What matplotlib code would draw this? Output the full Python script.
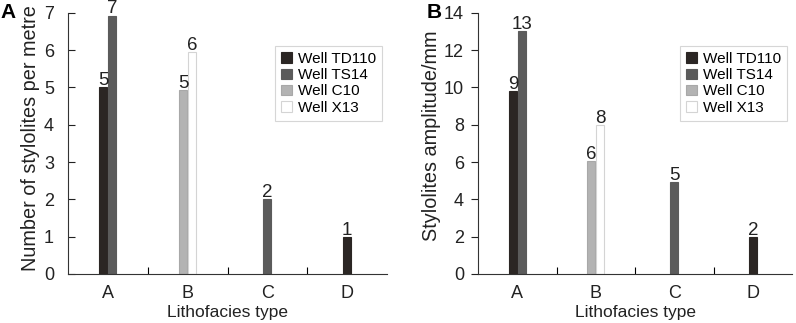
import numpy as np
import matplotlib
matplotlib.use("Agg")
import matplotlib.pyplot as plt
from matplotlib.ticker import FixedLocator

plt.rcParams['font.family'] = ['Liberation Sans', 'DejaVu Sans']

# categories and wells
categories = ['A', 'B', 'C', 'D']
wells = ['Well TD110', 'Well TS14', 'Well C10', 'Well X13']

# panel A: number of stylolites per metre (nan = no bar)
count_td110 = [5.0, np.nan, np.nan, 1.0]
count_ts14 = [6.93, np.nan, 2.0, np.nan]
count_c10 = [np.nan, 4.93, np.nan, np.nan]
count_x13 = [np.nan, 5.94, np.nan, np.nan]
count_labels_td110 = ['5', '', '', '1']
count_labels_ts14 = ['7', '', '2', '']
count_labels_c10 = ['', '5', '', '']
count_labels_x13 = ['', '6', '', '']

# panel B: stylolite amplitude in mm
amp_td110 = [9.83, np.nan, np.nan, 1.97]
amp_ts14 = [13.05, np.nan, 4.95, np.nan]
amp_c10 = [np.nan, 6.05, np.nan, np.nan]
amp_x13 = [np.nan, 8.0, np.nan, np.nan]
amp_labels_td110 = ['9', '', '', '2']
amp_labels_ts14 = ['13', '', '5', '']
amp_labels_c10 = ['', '6', '', '']
amp_labels_x13 = ['', '8', '', '']

face = ['#2b2624', '#5b5b5b', '#b3b3b3', '#ffffff']
edge = ['#2b2624', '#5b5b5b', '#a8a8a8', '#d4d4d4']
bar_w = 0.1
gap = 0.012


def draw_panel(ax, series, labels, ymax, ystep, ylabel, ytick_dir, ylab_y):
    series = np.array(series, dtype=float)
    # only the wells with data in a category are drawn, centred on the category
    for ci in range(len(categories)):
        idx = [k for k in range(len(wells)) if not np.isnan(series[k, ci])]
        n = len(idx)
        total = n * bar_w + (n - 1) * gap
        start = ci - total / 2 + bar_w / 2
        for j, k in enumerate(idx):
            x = start + j * (bar_w + gap)
            ax.bar(x, series[k, ci], width=bar_w, color=face[k], edgecolor=edge[k],
                   linewidth=0.8, zorder=2)
            ax.text(x, series[k, ci] + ymax * 0.008, labels[k][ci], ha='center',
                    va='baseline', fontsize=13.5, color='#222222')
    # legend handles
    for k in range(len(wells)):
        ax.bar(np.nan, np.nan, color=face[k], edgecolor=edge[k], linewidth=0.8,
               label=wells[k])

    ax.set_xlim(-0.5, 3.5)
    ax.set_ylim(0, ymax)
    ax.set_yticks(np.arange(0, ymax + 0.01, ystep))
    ax.set_xticks(range(len(categories)))
    ax.set_xticklabels(categories, fontsize=13)
    ax.xaxis.set_minor_locator(FixedLocator([0.5, 1.5, 2.5]))
    ax.tick_params(axis='x', which='major', length=0, pad=8, colors='#222222')
    ax.tick_params(axis='x', which='minor', direction='in', length=5, width=0.8)
    ax.tick_params(axis='y', direction=ytick_dir, length=5, width=0.8, labelsize=13,
                   pad=10 if ytick_dir == 'in' else 5, colors='#222222')
    for s in ['top', 'right']:
        ax.spines[s].set_visible(False)
    for s in ['left', 'bottom']:
        ax.spines[s].set_linewidth(0.8)
        ax.spines[s].set_color('#333333')
    ax.set_xlabel('Lithofacies type', fontsize=12.5, labelpad=2, color='#222222')
    ax.set_ylabel(ylabel, fontsize=14.3, labelpad=2.5, color='#222222')
    ax.yaxis.label.set_y(ylab_y)
    leg = ax.legend(loc='upper right', bbox_to_anchor=(0.985, 0.874), fontsize=11,
                    frameon=True, fancybox=False, handlelength=0.7, handleheight=0.7,
                    handletextpad=0.4, borderpad=0.4, labelspacing=0.15,
                    borderaxespad=0)
    leg.get_frame().set_edgecolor('#cccccc')
    leg.get_frame().set_linewidth(0.8)
    return ax


fig = plt.figure(figsize=(7.96, 3.23), dpi=100)
axA = fig.add_axes([0.0854, 0.152, 0.401, 0.808])
axB = fig.add_axes([0.6005, 0.152, 0.3945, 0.808])

draw_panel(axA,
           [count_td110, count_ts14, count_c10, count_x13],
           [count_labels_td110, count_labels_ts14, count_labels_c10, count_labels_x13],
           7, 1, 'Number of stylolites per metre', 'in', 0.521)
draw_panel(axB,
           [amp_td110, amp_ts14, amp_c10, amp_x13],
           [amp_labels_td110, amp_labels_ts14, amp_labels_c10, amp_labels_x13],
           14, 2, 'Stylolites amplitude/mm', 'out', 0.529)

fig.text(0.001, 0.99, 'A', fontsize=15, fontweight='bold', va='top', ha='left')
fig.text(0.536, 0.99, 'B', fontsize=15, fontweight='bold', va='top', ha='left')

fig.savefig('out.png', dpi=100)
